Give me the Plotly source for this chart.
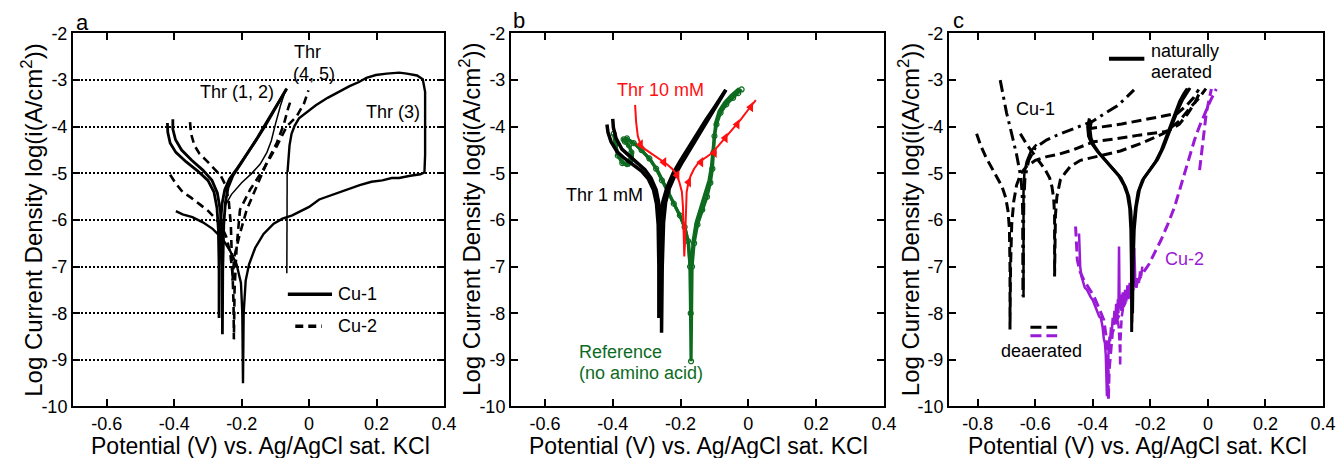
import plotly.graph_objects as go

# ---------------- ticks / ranges ----------------
X_TICKS_AB = [-0.6, -0.4, -0.2, 0, 0.2, 0.4]
X_TICKTEXT_AB = ["-0.6", "-0.4", "-0.2", "0", "0.2", "0.4"]
X_TICKS_C = [-0.8, -0.6, -0.4, -0.2, 0, 0.2, 0.4]
X_TICKTEXT_C = ["-0.8", "-0.6", "-0.4", "-0.2", "0", "0.2", "0.4"]
Y_TICKS = [-2, -3, -4, -5, -6, -7, -8, -9, -10]
Y_TICKTEXT = ["-2", "-3", "-4", "-5", "-6", "-7", "-8", "-9", "-10"]
X_RANGE_AB = [-0.7, 0.4]
X_RANGE_C = [-0.9, 0.4]
Y_RANGE = [-10, -2]

# ---------------- panel a : Cu-1 (solid) ----------------
a_thr1_x = [-0.420, -0.419, -0.412, -0.395, -0.365, -0.330, -0.300, -0.282, -0.273, -0.269, -0.267, -0.267,
            -0.266, -0.263, -0.258, -0.250, -0.236, -0.212, -0.185, -0.158, -0.130, -0.103, -0.082, -0.068]
a_thr1_y = [-3.92, -4.12, -4.35, -4.55, -4.75, -4.95, -5.15, -5.40, -5.75, -6.20, -7.00, -8.10,
            -7.00, -6.10, -5.65, -5.35, -5.12, -4.88, -4.60, -4.30, -3.98, -3.65, -3.38, -3.20]
a_thr2_x = [-0.404, -0.404, -0.396, -0.378, -0.348, -0.315, -0.288, -0.272, -0.263, -0.259, -0.257, -0.257,
            -0.256, -0.253, -0.248, -0.240, -0.226, -0.203, -0.178, -0.152, -0.126, -0.100, -0.080, -0.066]
a_thr2_y = [-3.84, -4.05, -4.28, -4.50, -4.72, -4.93, -5.15, -5.42, -5.80, -6.25, -7.10, -8.45,
            -7.10, -6.10, -5.62, -5.30, -5.05, -4.80, -4.52, -4.22, -3.90, -3.58, -3.34, -3.18]
a_thr12r_x = [-0.070, -0.085, -0.100, -0.112, -0.125, -0.145, -0.170, -0.200, -0.230, -0.250]
a_thr12r_y = [-3.22, -3.55, -3.95, -4.30, -4.55, -4.80, -5.00, -5.20, -5.45, -5.70]
a_thr3_x = [-0.395, -0.375, -0.346, -0.315, -0.286, -0.257, -0.235, -0.215, -0.202, -0.198, -0.196,
            -0.194, -0.188, -0.178, -0.160, -0.135, -0.105, -0.079, -0.050, -0.030, 0.000, 0.030,
            0.060, 0.090, 0.119, 0.150, 0.185, 0.217, 0.245, 0.267, 0.300, 0.330, 0.342, 0.344,
            0.344, 0.344, 0.337, 0.320, 0.290, 0.267, 0.230, 0.198, 0.170, 0.148, 0.120, 0.089,
            0.055, 0.020, -0.010, -0.030, -0.043, -0.052, -0.058, -0.062, -0.064]
a_thr3_y = [-5.81, -5.88, -5.94, -6.05, -6.19, -6.40, -6.65, -6.95, -7.35, -8.00, -9.50,
            -8.00, -7.30, -6.95, -6.60, -6.30, -6.08, -5.97, -5.90, -5.83, -5.72, -5.56,
            -5.48, -5.40, -5.33, -5.25, -5.18, -5.15, -5.10, -5.10, -5.05, -5.02, -4.98, -4.60,
            -3.80, -3.25, -2.98, -2.90, -2.86, -2.84, -2.86, -2.89, -2.95, -3.04, -3.13, -3.25,
            -3.38, -3.54, -3.70, -3.82, -3.98, -4.15, -4.40, -4.70, -4.97]
a_thr3v_x = [-0.065, -0.066, -0.066]
a_thr3v_y = [-4.97, -6.00, -7.14]

# ---------------- panel a : Cu-2 (dashed) ----------------
a_thr4_x = [-0.353, -0.350, -0.340, -0.325, -0.305, -0.282, -0.262, -0.248, -0.238, -0.232, -0.229, -0.227,
            -0.222, -0.205, -0.185, -0.155, -0.126, -0.096, -0.075, -0.062, -0.055]
a_thr4_y = [-3.90, -4.15, -4.40, -4.58, -4.72, -4.90, -5.05, -5.25, -5.60, -6.10, -6.80, -7.30,
            -6.79, -6.29, -5.78, -5.28, -4.78, -4.35, -3.95, -3.60, -3.45]
a_thr5_x = [-0.412, -0.395, -0.375, -0.350, -0.325, -0.300, -0.280, -0.262, -0.246, -0.234, -0.227, -0.224,
            -0.223, -0.221, -0.215, -0.210, -0.205, -0.175, -0.136, -0.096, -0.066, -0.037, -0.015, -0.002]
a_thr5_y = [-5.03, -5.22, -5.40, -5.52, -5.66, -5.80, -5.95, -6.10, -6.35, -6.70, -7.15, -7.80,
            -8.56, -7.50, -6.60, -6.10, -5.78, -5.35, -4.92, -4.42, -3.99, -3.78, -3.50, -3.22]

# ---------------- panel b ----------------
b_thr1a_x = [-0.417, -0.414, -0.405, -0.387, -0.365, -0.340, -0.315, -0.295, -0.280, -0.271, -0.266, -0.264,
             -0.264, -0.262, -0.258, -0.252, -0.240, -0.222, -0.200, -0.175, -0.150, -0.125, -0.100, -0.080, -0.067]
b_thr1a_y = [-3.95, -4.12, -4.32, -4.54, -4.68, -4.82, -4.95, -5.12, -5.35, -5.65, -6.10, -7.00,
             -8.10, -6.90, -6.00, -5.60, -5.30, -5.00, -4.72, -4.42, -4.12, -3.85, -3.58, -3.36, -3.21]
b_thr1b_x = [-0.400, -0.398, -0.390, -0.373, -0.352, -0.328, -0.305, -0.287, -0.272, -0.263, -0.258, -0.256,
             -0.256, -0.254, -0.250, -0.244, -0.233, -0.215, -0.193, -0.168, -0.143, -0.118, -0.095, -0.077, -0.066]
b_thr1b_y = [-3.83, -4.02, -4.25, -4.48, -4.62, -4.77, -4.92, -5.10, -5.35, -5.68, -6.15, -7.10,
             -8.42, -7.00, -6.05, -5.62, -5.32, -5.02, -4.74, -4.44, -4.14, -3.86, -3.58, -3.36, -3.21]
b_refa_x = [-0.397, -0.393, -0.385, -0.372, -0.358, -0.346, -0.345, -0.352, -0.364, -0.368, -0.358, -0.338,
            -0.315, -0.292, -0.272, -0.255, -0.238, -0.220, -0.202, -0.188, -0.178, -0.172, -0.170, -0.169,
            -0.166, -0.160, -0.150, -0.136, -0.122, -0.112, -0.106, -0.103, -0.100, -0.094, -0.082, -0.065,
            -0.045, -0.030, -0.020]
b_refa_y = [-4.15, -4.40, -4.62, -4.78, -4.80, -4.70, -4.55, -4.40, -4.32, -4.27, -4.25, -4.35,
            -4.50, -4.68, -4.90, -5.15, -5.40, -5.65, -5.90, -6.15, -6.45, -7.00, -8.00, -9.03,
            -7.00, -6.50, -6.10, -5.78, -5.50, -5.20, -4.90, -4.55, -4.20, -3.95, -3.70, -3.52,
            -3.38, -3.28, -3.20]
b_refb_x = [-0.392, -0.389, -0.380, -0.366, -0.352, -0.342, -0.342, -0.350, -0.360, -0.362, -0.350, -0.330,
            -0.308, -0.286, -0.266, -0.249, -0.232, -0.215, -0.198, -0.185, -0.176, -0.171, -0.170, -0.168,
            -0.163, -0.154, -0.141, -0.127, -0.116, -0.109, -0.105, -0.101, -0.096, -0.086, -0.070, -0.052,
            -0.036, -0.027]
b_refb_y = [-4.22, -4.46, -4.66, -4.80, -4.82, -4.72, -4.58, -4.44, -4.36, -4.31, -4.30, -4.40,
            -4.56, -4.74, -4.96, -5.22, -5.47, -5.72, -5.97, -6.22, -6.52, -7.10, -7.90, -7.00,
            -6.45, -6.05, -5.75, -5.45, -5.15, -4.85, -4.50, -4.15, -3.90, -3.66, -3.48, -3.34,
            -3.24, -3.18]
b_thr10_x = [-0.334, -0.331, -0.326, -0.318, -0.305, -0.285, -0.262, -0.241, -0.225, -0.212, -0.203, -0.196,
             -0.193, -0.191, -0.189, -0.187, -0.186, -0.184, -0.182, -0.177, -0.170, -0.160, -0.148, -0.130,
             -0.110, -0.090, -0.068, -0.045, -0.022, 0.000, 0.022]
b_thr10_y = [-3.53, -3.90, -4.20, -4.38, -4.48, -4.58, -4.68, -4.80, -4.90, -5.02, -5.20, -5.40,
             -5.70, -6.20, -6.78, -6.50, -6.20, -5.80, -5.40, -5.20, -5.05, -4.90, -4.78, -4.68,
             -4.58, -4.42, -4.24, -4.04, -3.84, -3.63, -3.43]
b_thr10_mark_x = [-0.318, -0.249, -0.210, -0.176, -0.140, -0.100, -0.068, -0.033, 0.007]
b_thr10_mark_y = [-4.38, -4.76, -5.04, -5.19, -4.76, -4.56, -4.24, -3.95, -3.58]

# ---------------- panel c : Cu-1 naturally aerated (solid) ----------------
c_n1_x = [-0.412, -0.418, -0.415, -0.405, -0.385, -0.360, -0.335, -0.310, -0.292, -0.280, -0.272, -0.268,
          -0.266, -0.265, -0.263, -0.259, -0.252, -0.243, -0.228, -0.205, -0.182, -0.162, -0.145, -0.130,
          -0.115, -0.098, -0.083, -0.072]
c_n1_y = [-3.82, -4.00, -4.20, -4.35, -4.52, -4.70, -4.88, -5.05, -5.25, -5.45, -5.75, -6.20,
          -7.00, -8.40, -7.00, -6.20, -5.75, -5.40, -5.15, -4.95, -4.75, -4.50, -4.22, -3.95,
          -3.70, -3.45, -3.28, -3.18]
c_n2_x = [-0.405, -0.410, -0.406, -0.396, -0.376, -0.350, -0.325, -0.302, -0.286, -0.275, -0.268, -0.264,
          -0.262, -0.262, -0.260, -0.256, -0.249, -0.238, -0.222, -0.198, -0.175, -0.155, -0.138, -0.122,
          -0.106, -0.088, -0.073, -0.062]
c_n2_y = [-3.88, -4.05, -4.25, -4.40, -4.58, -4.76, -4.93, -5.10, -5.30, -5.50, -5.80, -6.25,
          -7.00, -8.00, -7.00, -6.20, -5.72, -5.35, -5.10, -4.90, -4.70, -4.45, -4.18, -3.92,
          -3.66, -3.42, -3.26, -3.17]
c_n3_x = [-0.408, -0.414, -0.411, -0.400, -0.380, -0.355, -0.330, -0.306, -0.289, -0.278, -0.270, -0.266,
          -0.264, -0.263, -0.261, -0.257, -0.250, -0.240, -0.225, -0.201, -0.178, -0.158, -0.141, -0.126,
          -0.110, -0.093, -0.078, -0.067]
c_n3_y = [-3.85, -4.02, -4.22, -4.38, -4.55, -4.73, -4.90, -5.07, -5.27, -5.48, -5.78, -6.22,
          -7.00, -8.20, -7.00, -6.20, -5.73, -5.37, -5.12, -4.92, -4.72, -4.48, -4.20, -3.93,
          -3.68, -3.44, -3.27, -3.18]

# ---------------- panel c : Cu-1 deaerated (dashed) ----------------
c_d1_x = [-0.804, -0.790, -0.772, -0.752, -0.733, -0.716, -0.703, -0.695, -0.690, -0.688, -0.688, -0.686,
          -0.682, -0.675, -0.665, -0.650, -0.630, -0.600, -0.560, -0.524, -0.470, -0.397, -0.320, -0.240,
          -0.141, -0.100, -0.070, -0.045, -0.025]
c_d1_y = [-4.15, -4.40, -4.65, -4.88, -5.08, -5.28, -5.52, -5.80, -6.20, -7.00, -8.35, -7.00,
          -6.10, -5.60, -5.25, -5.00, -4.85, -4.72, -4.64, -4.60, -4.50, -4.32, -4.26, -4.18,
          -4.10, -3.95, -3.72, -3.48, -3.22]
c_d2_x = [-0.652, -0.630, -0.606, -0.585, -0.565, -0.550, -0.542, -0.536, -0.533, -0.533, -0.530, -0.525,
          -0.513, -0.495, -0.478, -0.443, -0.408, -0.360, -0.304, -0.230, -0.153, -0.100, -0.059, -0.030, -0.007]
c_d2_y = [-4.15, -4.38, -4.58, -4.75, -4.93, -5.10, -5.29, -5.55, -5.90, -7.21, -5.90, -5.50,
          -5.14, -4.98, -4.85, -4.72, -4.67, -4.60, -4.52, -4.35, -4.14, -3.88, -3.57, -3.38, -3.18]
c_d3_x = [-0.722, -0.712, -0.700, -0.688, -0.676, -0.665, -0.657, -0.650, -0.646, -0.644, -0.643, -0.640,
          -0.636, -0.623, -0.600, -0.560, -0.524, -0.460, -0.400, -0.360, -0.315, -0.285, -0.257]
c_d3_y = [-3.00, -3.35, -3.70, -4.00, -4.29, -4.60, -4.86, -5.10, -5.40, -5.80, -7.64, -5.60,
          -5.10, -4.72, -4.45, -4.28, -4.18, -4.03, -3.88, -3.72, -3.55, -3.38, -3.21]
c_d3s_x = [-0.641, -0.641, -0.638, -0.630, -0.615, -0.596]
c_d3s_y = [-7.66, -5.40, -5.00, -4.75, -4.52, -4.38]
c_d4_x = [-0.420, -0.362, -0.300, -0.230, -0.160, -0.106, -0.075, -0.050, -0.032]
c_d4_y = [-4.05, -4.00, -3.94, -3.86, -3.78, -3.71, -3.55, -3.38, -3.20]

# ---------------- panel c : Cu-2 (purple) ----------------
c_p_deaer_x = [-0.460, -0.458, -0.454, -0.445, -0.432, -0.418, -0.405, -0.396, -0.385, -0.372, -0.362, -0.355,
               -0.350, -0.347, -0.346, -0.343, -0.338, -0.332, -0.320, -0.305, -0.288, -0.270, -0.256, -0.240,
               -0.222, -0.205, -0.185, -0.163, -0.140, -0.116, -0.098, -0.082, -0.064, -0.047, -0.030, -0.012,
               0.008, 0.029]
c_p_deaer_y = [-6.14, -6.45, -6.86, -7.10, -7.28, -7.42, -7.55, -7.64, -7.80, -7.98, -8.14, -8.45,
               -8.78, -9.20, -9.85, -9.20, -8.78, -8.42, -8.20, -7.98, -7.78, -7.58, -7.43, -7.28,
               -7.10, -6.95, -6.70, -6.43, -6.10, -5.72, -5.35, -5.00, -4.62, -4.29, -4.00, -3.72,
               -3.45, -3.19]
c_p_deaer2_x = [-0.318, -0.310, -0.306, -0.305, -0.304, -0.300, -0.294]
c_p_deaer2_y = [-7.90, -8.30, -8.80, -9.14, -8.60, -8.10, -7.85]
c_p_deaer3_x = [-0.029, -0.022, -0.014, -0.006, 0.003, 0.012]
c_p_deaer3_y = [-4.93, -4.55, -4.10, -3.72, -3.45, -3.19]
c_p_nat_x = [-0.448, -0.447, -0.444, -0.440, -0.434, -0.428, -0.420, -0.414, -0.408, -0.400, -0.392, -0.385,
             -0.378, -0.372, -0.366, -0.362, -0.358, -0.355, -0.353, -0.351, -0.350, -0.349, -0.348, -0.347,
             -0.346, -0.344, -0.342, -0.340, -0.337, -0.334, -0.331, -0.328, -0.325, -0.322, -0.319, -0.316,
             -0.313, -0.311, -0.309, -0.307, -0.304, -0.300, -0.296, -0.292, -0.288, -0.284, -0.280, -0.276,
             -0.272, -0.268, -0.264, -0.260, -0.256, -0.252, -0.248, -0.244, -0.240, -0.236, -0.232, -0.228]
c_p_nat_y = [-6.29, -6.70, -7.00, -7.20, -7.35, -7.45, -7.50, -7.58, -7.65, -7.72, -7.85, -7.95,
             -8.07, -8.10, -8.30, -8.55, -8.64, -8.90, -9.40, -9.78, -9.30, -9.70, -9.10, -9.50,
             -8.90, -8.70, -8.50, -8.60, -8.30, -8.40, -8.10, -8.25, -7.95, -8.20, -7.80, -8.10,
             -7.70, -8.00, -6.57, -7.90, -7.60, -7.95, -7.55, -7.85, -7.50, -7.75, -7.40, -7.70,
             -7.35, -7.60, -7.30, -7.50, -6.60, -7.40, -7.45, -7.25, -7.35, -7.10, -7.20, -7.00]

BLACK = "#000000"
RED = "#ff1010"
GREEN = "#0d6b1f"
PURPLE = "#9a1ad6"

fig = go.Figure()


def add_line(x, y, ax, color, width, dash="solid", mode="lines", marker=None):
    xa = "x" if ax == 1 else "x%d" % ax
    ya = "y" if ax == 1 else "y%d" % ax
    kw = dict(x=x, y=y, xaxis=xa, yaxis=ya, mode=mode, showlegend=False, hoverinfo="skip",
              line=dict(color=color, width=width, dash=dash))
    if marker is not None:
        kw["marker"] = marker
    fig.add_trace(go.Scatter(**kw))


DASH = "8px,5px"

# panel a
add_line(a_thr4_x, a_thr4_y, 1, BLACK, 2.6, DASH)
add_line(a_thr5_x, a_thr5_y, 1, BLACK, 2.6, DASH)
add_line(a_thr12r_x, a_thr12r_y, 1, BLACK, 1.5)
add_line(a_thr1_x, a_thr1_y, 1, BLACK, 2.8)
add_line(a_thr2_x, a_thr2_y, 1, BLACK, 2.8)
add_line(a_thr3_x, a_thr3_y, 1, BLACK, 2.4)
add_line(a_thr3v_x, a_thr3v_y, 1, BLACK, 1.5)

# panel b
add_line(b_refa_x, b_refa_y, 2, GREEN, 3.2, mode="lines+markers",
         marker=dict(symbol="circle-open", size=5, color=GREEN, line=dict(width=1.2)))
add_line(b_refb_x, b_refb_y, 2, GREEN, 3.2)
add_line(b_thr1a_x, b_thr1a_y, 2, BLACK, 3.5)
add_line(b_thr1b_x, b_thr1b_y, 2, BLACK, 3.5)
add_line(b_thr10_x, b_thr10_y, 2, RED, 2)
add_line(b_thr10_mark_x, b_thr10_mark_y, 2, RED, 0, mode="markers",
         marker=dict(symbol="triangle-left", size=9, color=RED))

# panel c
add_line(c_p_nat_x, c_p_nat_y, 3, PURPLE, 2.5)
add_line(c_p_deaer_x, c_p_deaer_y, 3, PURPLE, 3, "10px,5px")
add_line(c_p_deaer2_x, c_p_deaer2_y, 3, PURPLE, 2.5, "8px,4px")
add_line(c_p_deaer3_x, c_p_deaer3_y, 3, PURPLE, 3, "10px,5px")
add_line(c_d1_x, c_d1_y, 3, BLACK, 3, "10px,5px")
add_line(c_d2_x, c_d2_y, 3, BLACK, 3, "10px,5px")
add_line(c_d3_x, c_d3_y, 3, BLACK, 3, "12px,5px,3px,5px")
add_line(c_d3s_x, c_d3s_y, 3, BLACK, 2.5)
add_line(c_d4_x, c_d4_y, 3, BLACK, 3, "10px,5px")
add_line(c_n1_x, c_n1_y, 3, BLACK, 3)
add_line(c_n2_x, c_n2_y, 3, BLACK, 3)
add_line(c_n3_x, c_n3_y, 3, BLACK, 2)

TICKFONT = dict(family="Liberation Sans, Arial, sans-serif", size=18, color="#000")
Y_DOM = [0.11245, 0.92686]


def xaxis(dom, rng, tv, tt, anchor):
    return dict(domain=dom, range=rng, tickvals=tv, ticktext=tt, anchor=anchor, automargin=False,
                showline=True, linecolor="#000", linewidth=2, mirror="ticks",
                ticks="inside", ticklen=7, tickwidth=2, tickcolor="#000",
                showgrid=False, zeroline=False, tickfont=TICKFONT, fixedrange=True)


def yaxis(anchor, grid):
    d = dict(domain=Y_DOM, range=Y_RANGE, tickvals=Y_TICKS, ticktext=Y_TICKTEXT, anchor=anchor,
             automargin=False,
             showline=True, linecolor="#000", linewidth=2, mirror="ticks",
             ticks="inside", ticklen=7, tickwidth=2, tickcolor="#000",
             zeroline=False, tickfont=TICKFONT, fixedrange=True, showgrid=grid)
    if grid:
        d.update(gridcolor="#000", gridwidth=1.5, griddash="2px,2px")
    return d


fig.update_layout(
    width=1338, height=458, autosize=False,
    margin=dict(l=0, r=0, t=0, b=0, pad=0, autoexpand=False),
    paper_bgcolor="white", plot_bgcolor="white",
    font=dict(family="Liberation Sans, Arial, sans-serif", color="#000"),
    xaxis=xaxis([0.05456, 0.33184], X_RANGE_AB, X_TICKS_AB, X_TICKTEXT_AB, "y"),
    yaxis=yaxis("x", True),
    xaxis2=xaxis([0.38191, 0.66069], X_RANGE_AB, X_TICKS_AB, X_TICKTEXT_AB, "y2"),
    yaxis2=yaxis("x2", False),
    xaxis3=xaxis([0.70927, 0.98879], X_RANGE_C, X_TICKS_C, X_TICKTEXT_C, "y3"),
    yaxis3=yaxis("x3", False),
)

# legend samples
shapes = [
    dict(type="line", xref="x", yref="y", x0=-0.063, x1=0.068, y0=-7.59, y1=-7.59,
         line=dict(color=BLACK, width=3.5)),
    dict(type="line", xref="x", yref="y", x0=-0.041, x1=0.038, y0=-8.28, y1=-8.28,
         line=dict(color=BLACK, width=3.5, dash="8px,5px")),
    dict(type="line", xref="x3", yref="y3", x0=-0.344, x1=-0.221, y0=-2.544, y1=-2.544,
         line=dict(color=BLACK, width=4)),
    dict(type="line", xref="x3", yref="y3", x0=-0.617, x1=-0.524, y0=-8.30, y1=-8.30,
         line=dict(color=BLACK, width=3, dash="11px,5px")),
    dict(type="line", xref="x3", yref="y3", x0=-0.617, x1=-0.524, y0=-8.48, y1=-8.48,
         line=dict(color=PURPLE, width=3, dash="11px,5px")),
]
fig.update_layout(shapes=shapes)

LAB = 18


def ann(text, x, y, xref, yref, size=LAB, color="#000", xanchor="center", yanchor="middle", angle=0, pad=1):
    fig.add_annotation(text=text, x=x, y=y, xref=xref, yref=yref, showarrow=False,
                       font=dict(size=size, color=color), xanchor=xanchor, yanchor=yanchor,
                       textangle=angle, borderpad=pad)


# panel letters (paper coords, above the frames)
ann("a", 0.0613, 0.9498, "paper", "paper", 22)
ann("b", 0.3879, 0.9563, "paper", "paper", 22)
ann("c", 0.7160, 0.9563, "paper", "paper", 22)

# panel a labels
ann("Thr (1, 2)", -0.214, -3.25, "x", "y")
ann("Thr", -0.005, -2.39, "x", "y")
ann("(4, 5)", 0.015, -2.86, "x", "y")
ann("Thr (3)", 0.25, -3.68, "x", "y")
ann("Cu-1", 0.079, -7.59, "x", "y", xanchor="left")
ann("Cu-2", 0.079, -8.28, "x", "y", xanchor="left")

# panel b labels
ann("Thr 10 mM", -0.258, -3.21, "x2", "y2", color=RED)
ann("Thr 1 mM", -0.425, -5.47, "x2", "y2")
ann("Reference", -0.505, -8.83, "x2", "y2", color=GREEN, xanchor="left")
ann("(no amino acid)", -0.505, -9.29, "x2", "y2", color=GREEN, xanchor="left")

# panel c labels
ann("naturally", -0.204, -2.38, "x3", "y3", xanchor="left")
ann("aerated", -0.204, -2.83, "x3", "y3", xanchor="left")
ann("deaerated", -0.577, -8.82, "x3", "y3")
ann("Cu-1", -0.600, -3.61, "x3", "y3")
ann("Cu-2", -0.082, -6.84, "x3", "y3", color=PURPLE)

# axis titles
YT = "Log Current Density log(i(A/cm<sup>2</sup>))"
XT = "Potential (V) vs. Ag/AgCl sat. KCl"
for xp in [0.0239, 0.3513, 0.6789]:
    ann(YT, xp, 0.52, "paper", "paper", 24, angle=-90)
for xp in [0.195, 0.5217, 0.8505]:
    ann(XT, xp, 0.0262, "paper", "paper", 23, pad=0)

fig.write_html("out.html")
